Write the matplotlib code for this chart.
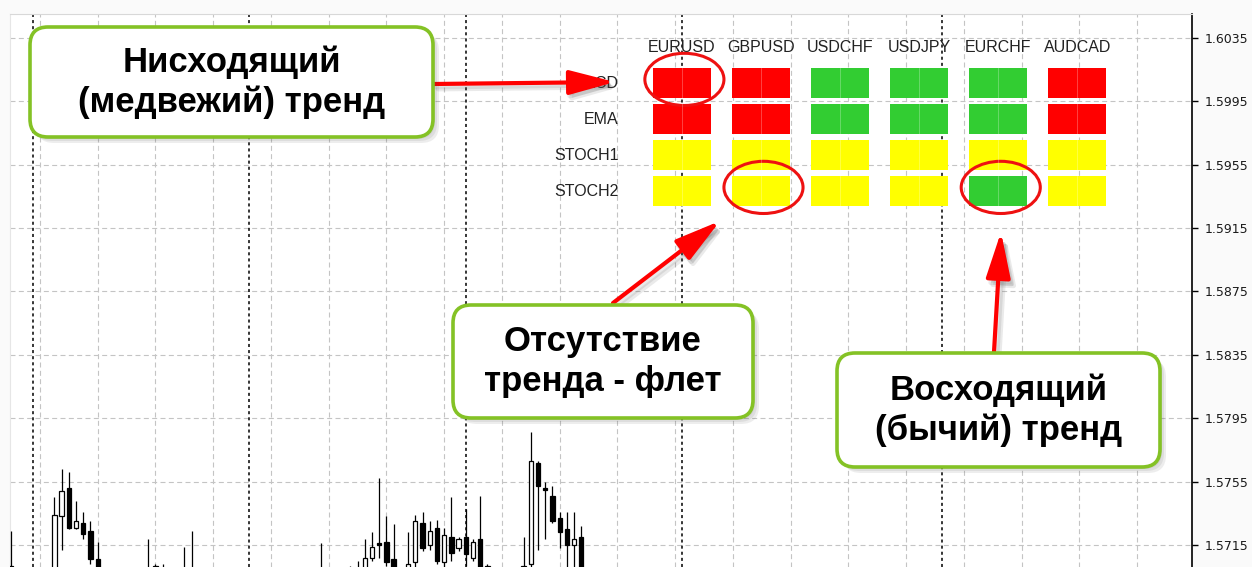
import matplotlib.pyplot as plt
from matplotlib.patches import FancyBboxPatch, FancyArrowPatch, Ellipse, Rectangle

# candles (bar index, open, high, low, close) - only the ones visible in the window
bar_idx = [0, 6, 7, 8, 9, 10, 11, 12, 19, 20, 21, 23, 24, 25, 43, 47, 48, 49, 50,
           51, 52, 53, 55, 56, 57, 58, 59, 60, 61, 62, 63, 64, 65, 66,
           71, 72, 73, 74, 75, 76, 77, 78, 79]
opens = [1.5702, 1.5690, 1.5733, 1.5751, 1.5726, 1.5729, 1.5724, 1.5706, 1.5695, 1.5702,
         1.5694, 1.5696, 1.5693, 1.5697, 1.5695, 1.5697, 1.5696, 1.5695, 1.5707,
         1.5716, 1.5717, 1.5706, 1.5695, 1.5704, 1.5729, 1.5715, 1.5726, 1.5704,
         1.5720, 1.5713, 1.5720, 1.5707, 1.5719, 1.5702,
         1.5692, 1.5703, 1.5767, 1.5751, 1.5746, 1.5732, 1.5725, 1.5715, 1.5720]
highs = [1.5724, 1.5745, 1.5763, 1.5761, 1.5743, 1.5736, 1.5730, 1.5717, 1.5719, 1.5703,
         1.5703, 1.5701, 1.5714, 1.5724, 1.5716, 1.5702, 1.5705, 1.5719, 1.5723,
         1.5757, 1.5733, 1.5728, 1.5723, 1.5734, 1.5736, 1.5730, 1.5731, 1.5726,
         1.5745, 1.5720, 1.5738, 1.5719, 1.5746, 1.5703,
         1.5720, 1.5786, 1.5768, 1.5755, 1.5752, 1.5736, 1.5736, 1.5736, 1.5727]
lows = [1.5690, 1.5688, 1.5712, 1.5725, 1.5725, 1.5719, 1.5703, 1.5688, 1.5685, 1.5690,
        1.5688, 1.5690, 1.5688, 1.5690, 1.5688, 1.5690, 1.5690, 1.5692, 1.5705,
        1.5707, 1.5702, 1.5690, 1.5690, 1.5701, 1.5711, 1.5712, 1.5703, 1.5701,
        1.5705, 1.5711, 1.5702, 1.5705, 1.5690, 1.5690,
        1.5688, 1.5700, 1.5712, 1.5719, 1.5729, 1.5713, 1.5695, 1.5695, 1.5690]
closes = [1.5699, 1.5734, 1.5749, 1.5726, 1.5730, 1.5722, 1.5706, 1.5692, 1.5692, 1.5700,
          1.5697, 1.5693, 1.5698, 1.5695, 1.5697, 1.5699, 1.5699, 1.5707, 1.5714,
          1.5715, 1.5704, 1.5695, 1.5703, 1.5730, 1.5713, 1.5724, 1.5705, 1.5721,
          1.5710, 1.5719, 1.5709, 1.5717, 1.5695, 1.5695,
          1.5702, 1.5768, 1.5752, 1.5750, 1.5730, 1.5723, 1.5715, 1.5719, 1.5695]

price_ticks = [1.5715, 1.5755, 1.5795, 1.5835, 1.5875, 1.5915, 1.5955, 1.5995, 1.6035]
grid_bars = list(range(4, 164, 8))
separators = [3, 33, 63, 93, 129]

# indicator panel
pairs = ["EURUSD", "GBPUSD", "USDCHF", "USDJPY", "EURCHF", "AUDCAD"]
indicators = ["MACD", "EMA", "STOCH1", "STOCH2"]
signals = [
    ["down", "down", "up", "up", "up", "down"],
    ["down", "down", "up", "up", "up", "down"],
    ["flat", "flat", "flat", "flat", "flat", "flat"],
    ["flat", "flat", "flat", "flat", "up", "flat"],
]
signal_colors = {"down": "#ff0000", "up": "#32cd32", "flat": "#ffff00"}
circled = [(0, 0), (3, 1), (3, 4)]  # (row, col)

W, H = 1252, 567
fig = plt.figure(figsize=(W / 100, H / 100), dpi=100, facecolor="#fafafa")

# main price chart
ax = fig.add_axes([10 / W, 0, (1192 - 10) / W, (H - 14) / H])
ax.set_facecolor("white")
ax.set_xlim(-0.15, 163.6)
ax.set_ylim(1.57011, 1.605015)

for i, o, h, l, c in zip(bar_idx, opens, highs, lows, closes):
    ax.vlines(i, l, h, color="black", lw=0.9, zorder=3)
    bottom = min(o, c)
    height = max(abs(c - o), 0.00004)
    ax.bar(i, height, bottom=bottom, width=0.6,
           color="white" if c > o else "black", edgecolor="black", lw=0.9, zorder=4)

ax.yaxis.tick_right()
ax.set_yticks(price_ticks)
ax.set_yticklabels([f"{p:.4f}" for p in price_ticks], fontsize=9,
                   family="DejaVu Sans", color="#1a1a1a")
ax.tick_params(axis="y", direction="out", length=4, pad=5, width=1)
ax.set_xticks(grid_bars)
ax.tick_params(axis="x", length=0, labelbottom=False)
ax.grid(True, color="#c4c4c4", ls=(0, (4.5, 3)), lw=0.8, zorder=1)
for s in separators:
    ax.axvline(s, color="black", ls=(0, (2, 2)), lw=1.1, zorder=2)

ax.spines["right"].set_color("black")
ax.spines["right"].set_linewidth(1.2)
ax.spines["top"].set_color("#d8d8d8")
ax.spines["left"].set_color("#e6e6e6")
ax.spines["bottom"].set_visible(False)

# indicator panel, columns/rows as data units
axt = fig.add_axes([563.4 / W, 1 - 209 / H, (1117 - 563.4) / W, 180 / H])
axt.set_xlim(-1.5, 5.5)
axt.set_ylim(3.5, -1.5)
axt.axis("off")
axt.patch.set_alpha(0)
for c, name in enumerate(pairs):
    axt.text(c, -1, name, ha="center", va="center", fontsize=11.5,
             family="Liberation Sans", color="#222222")
for r, name in enumerate(indicators):
    axt.text(-0.8, r, name, ha="right", va="center", fontsize=11.5,
             family="Liberation Sans", color="#222222")
    for c in range(len(pairs)):
        axt.add_patch(Rectangle((c - 0.367, r - 0.417), 0.734, 0.834,
                                color=signal_colors[signals[r][c]], lw=0))
        axt.plot([c, c], [r - 0.417, r + 0.417], color="white", alpha=0.3, lw=0.6)
for r, c in circled:
    axt.add_patch(Ellipse((c + 0.03, r - 0.1), 1.0, 1.45, fill=False,
                          edgecolor="#ee1111", lw=2.2, clip_on=False))

# callouts and arrows in pixel space
axo = fig.add_axes([0, 0, 1, 1])
axo.set_xlim(0, W)
axo.set_ylim(H, 0)
axo.axis("off")
axo.patch.set_alpha(0)

callouts = [
    ((30, 27, 403, 110), "Нисходящий\n(медвежий) тренд"),
    ((453, 305, 300, 113), "Отсутствие\nтренда - флет"),
    ((837, 353, 323, 114), "Восходящий\n(бычий) тренд"),
]
arrows = [((433, 84), (615, 82)), ((613, 303), (720, 221)), ((994, 352), (1001, 232))]

for (tail, tip) in arrows:
    for k in (3, 5):
        axo.add_patch(FancyArrowPatch((tail[0] + k, tail[1] + k), (tip[0] + k, tip[1] + k),
                                      arrowstyle="-|>,head_length=28,head_width=7.5",
                                      mutation_scale=1, lw=3.5, color="#555555",
                                      alpha=0.12, shrinkA=0, shrinkB=0))
    axo.add_patch(FancyArrowPatch(tail, tip, arrowstyle="-|>,head_length=28,head_width=7.5",
                                  mutation_scale=1, lw=3.0, color="#ff0000",
                                  shrinkA=0, shrinkB=0))

for (x, y, w, h), label in callouts:
    for k in (2, 4, 6):
        axo.add_patch(FancyBboxPatch((x + k, y + k), w, h,
                                     boxstyle="round,pad=0,rounding_size=18",
                                     color="#404040", alpha=0.09, lw=0))
    axo.add_patch(FancyBboxPatch((x, y), w, h, boxstyle="round,pad=0,rounding_size=18",
                                 facecolor="white", edgecolor="#84c225", lw=2.6))
    axo.text(x + w / 2, y + h / 2, label, ha="center", va="center", fontsize=25,
             fontweight="bold", family="Liberation Sans", linespacing=1.25, color="black")

fig.savefig("out.png", dpi=100, facecolor=fig.get_facecolor())
